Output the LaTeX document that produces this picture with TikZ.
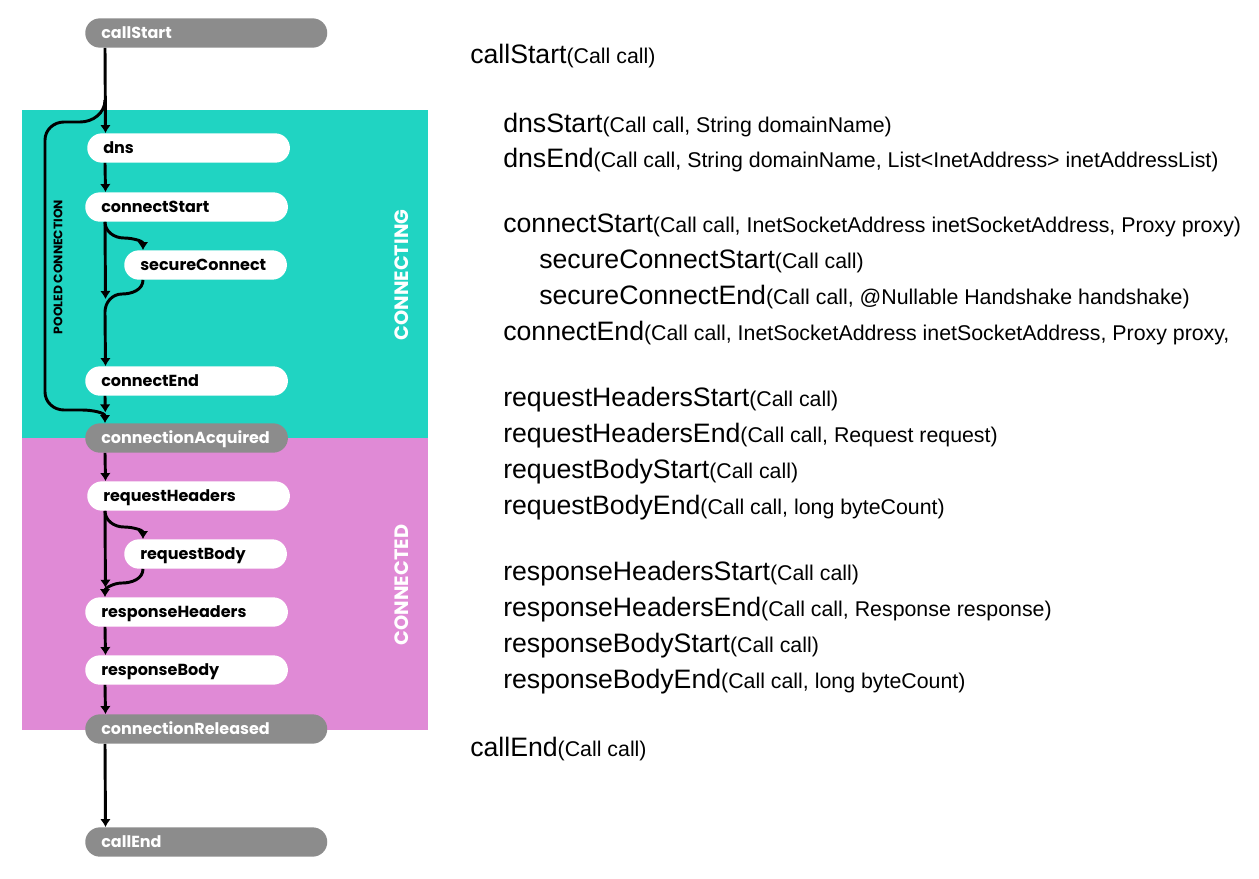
\documentclass[tikz,border=0pt]{standalone}
\usepackage{fontspec}
\setmainfont{Liberation Sans}
\newfontfamily\pillfont{Poppins}
\usetikzlibrary{arrows.meta}
\definecolor{tealbg}{HTML}{20D4C2}
\definecolor{pinkbg}{HTML}{E08AD6}
\definecolor{pillgrey}{HTML}{8C8C8C}
\newcommand{\bigev}[1]{{\fontsize{20pt}{22pt}\selectfont #1}}
\newcommand{\argev}[1]{{\fontsize{16pt}{18pt}\selectfont #1}}

\begin{document}
\begin{tikzpicture}[x=0.75pt,y=0.75pt,
    pill/.style={rounded corners=11pt,minimum height=22pt,inner xsep=12pt,inner ysep=0pt,
      text height=7.5pt,text depth=0pt,
      align=left,anchor=west,font=\pillfont\bfseries\fontsize{12pt}{14pt}\selectfont},
    whitepill/.style={pill,fill=white,text=black},
    greypill/.style={pill,fill=pillgrey,text=white},
    shortpill/.style={text width=128pt},
    longpill/.style={text width=157.5pt},
    midpill/.style={text width=98pt},
    flow/.style={->,>={Latex[length=6pt,width=8pt]},line width=2.2pt},
    ev/.style={anchor=base west,inner sep=0pt}]
        \useasboundingbox (0,0) rectangle (1259,-878);
        \fill[tealbg] (22,-110) rectangle (428,-438);
        \fill[pinkbg] (22,-438) rectangle (428,-730);
        \node[rotate=90,text=white,font=\pillfont\bfseries\fontsize{14.5pt}{17pt}\selectfont] (connecting) at (402,-275) {CONNECTING};
        \node[rotate=90,text=white,font=\pillfont\bfseries\fontsize{14.5pt}{17pt}\selectfont] (connected) at (402,-585) {CONNECTED};
        \node[rotate=90,font=\pillfont\bfseries\fontsize{9.2pt}{11pt}\selectfont] (pooled) at (58,-267) {POOLED CONNECTION};
        \coordinate (spine) at (105,0);
        \coordinate (spinelow) at (105.5,0);
        \coordinate (branch) at (143,0);
        % pills
        \node[greypill,longpill] (callStart) at (85,-33) {callStart};
        \node[whitepill,shortpill] (dns) at (87,-148) {dns};
        \node[whitepill,shortpill] (connectStart) at (85,-207) {connectStart};
        \node[whitepill,midpill] (secureConnect) at (124,-265) {secureConnect};
        \node[whitepill,shortpill] (connectEnd) at (85,-381) {connectEnd};
        \node[greypill,shortpill] (connectionAcquired) at (85,-438) {connectionAcquired};
        \node[whitepill,shortpill] (requestHeaders) at (87,-496) {requestHeaders};
        \node[whitepill,midpill] (requestBody) at (124,-554) {requestBody};
        \node[whitepill,shortpill] (responseHeaders) at (85,-612) {responseHeaders};
        \node[whitepill,shortpill] (responseBody) at (85,-670) {responseBody};
        \node[greypill,longpill] (connectionReleased) at (85,-729) {connectionReleased};
        \node[greypill,longpill] (callEnd) at (85,-842) {callEnd};
        \coordinate (poolfork) at (105,-100);
        \coordinate (secjoin) at (105.5,-299);
        % connectors
        \draw[flow] (callStart.south -| spine) -- (dns.north -| spinelow);
        \draw[flow] (poolfork) to[out=-90,in=0] (80,-122) -- (64,-122) to[out=180,in=90] (45,-140)
          -- (45,-392) to[out=-90,in=180] (64,-410) -- (82,-410) to[out=0,in=90] (connectionAcquired.north -| spine);
        \draw[flow] (dns.south -| spine) -- (connectStart.north -| spinelow);
        \draw[flow] (connectStart.south -| spine) to[out=-90,in=180] (124,-238) to[out=0,in=90] (secureConnect.north -| branch);
        \draw[flow] (connectStart.south -| spine) -- (secjoin);
        \draw[flow] (secureConnect.south -| branch) to[out=-90,in=0] (122,-294) to[out=180,in=90] (105,-312) -- (connectEnd.north -| spinelow);
        \draw[flow,shorten >=8pt] (connectEnd.south -| spine) -- (connectionAcquired.north -| spinelow);
        \draw[flow] (connectionAcquired.south -| spine) -- (requestHeaders.north -| spinelow);
        \draw[flow] (requestHeaders.south -| spine) to[out=-90,in=180] (124,-527) to[out=0,in=90] (requestBody.north -| branch);
        \draw[flow,shorten >=7pt] (requestHeaders.south -| spine) -- (responseHeaders.north -| spinelow);
        \draw[flow] (requestBody.south -| branch) to[out=-90,in=0] (122,-583) to[out=180,in=90] (responseHeaders.north -| spine);
        \draw[flow] (responseHeaders.south -| spine) -- (responseBody.north -| spinelow);
        \draw[flow] (responseBody.south -| spine) -- (connectionReleased.north -| spinelow);
        \draw[flow] (connectionReleased.south -| spine) -- (callEnd.north -| spinelow);
        % event listener methods
        \node[ev] (evCallStart) at (470,-63) {\bigev{callStart}\argev{(Call call)}};
        \node[ev] (evDnsStart) at (503,-132) {\bigev{dnsStart}\argev{(Call call, String domainName)}};
        \node[ev] (evDnsEnd) at (503,-167) {\bigev{dnsEnd}\argev{(Call call, String domainName, List<InetAddress> inetAddressList)}};
        \node[ev] (evConnectStart) at (503,-232) {\bigev{connectStart}\argev{(Call call, InetSocketAddress inetSocketAddress, Proxy proxy)}};
        \node[ev] (evSecureStart) at (539,-268) {\bigev{secureConnectStart}\argev{(Call call)}};
        \node[ev] (evSecureEnd) at (539,-304) {\bigev{secureConnectEnd}\argev{(Call call, @Nullable Handshake handshake)}};
        \node[ev] (evConnectEnd) at (503,-340) {\bigev{connectEnd}\argev{(Call call, InetSocketAddress inetSocketAddress, Proxy proxy,}};
        \node[ev] (evReqHeadStart) at (503,-406) {\bigev{requestHeadersStart}\argev{(Call call)}};
        \node[ev] (evReqHeadEnd) at (503,-442) {\bigev{requestHeadersEnd}\argev{(Call call, Request request)}};
        \node[ev] (evReqBodyStart) at (503,-478) {\bigev{requestBodyStart}\argev{(Call call)}};
        \node[ev] (evReqBodyEnd) at (503,-514) {\bigev{requestBodyEnd}\argev{(Call call, long byteCount)}};
        \node[ev] (evRespHeadStart) at (503,-580) {\bigev{responseHeadersStart}\argev{(Call call)}};
        \node[ev] (evRespHeadEnd) at (503,-616) {\bigev{responseHeadersEnd}\argev{(Call call, Response response)}};
        \node[ev] (evRespBodyStart) at (503,-652) {\bigev{responseBodyStart}\argev{(Call call)}};
        \node[ev] (evRespBodyEnd) at (503,-688) {\bigev{responseBodyEnd}\argev{(Call call, long byteCount)}};
        \node[ev] (evCallEnd) at (470,-756) {\bigev{callEnd}\argev{(Call call)}};
\end{tikzpicture}
\end{document}
